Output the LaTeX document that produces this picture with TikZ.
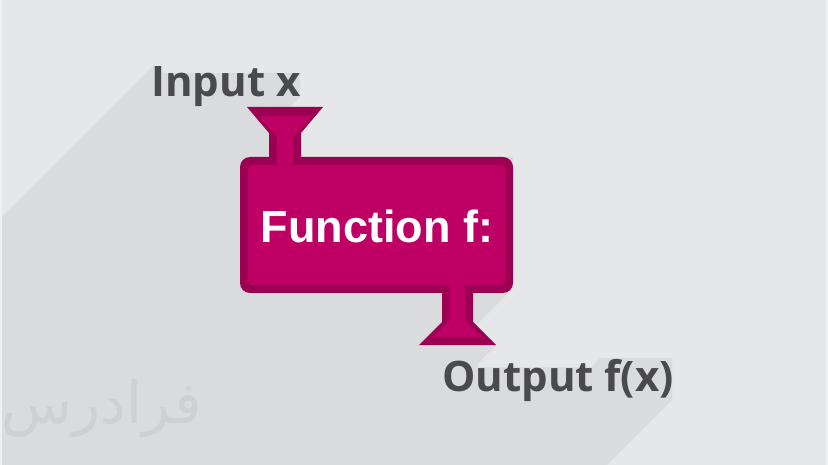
\documentclass[tikz,border=0pt]{standalone}
\usepackage{fontspec}
\setmainfont{Liberation Sans}
\newfontfamily\lblfont{Open Sans}
\newfontfamily\arabicfont[Script=Arabic]{DejaVu Sans}
\TeXXeTstate=1
\definecolor{bgc}{RGB}{230,231,232}
\definecolor{shc}{RGB}{218,219,221}
\definecolor{mgc}{RGB}{190,0,100}
\definecolor{bdc}{RGB}{156,0,82}
\definecolor{txc}{RGB}{74,74,76}
\definecolor{wmc}{RGB}{207,208,210}
\definecolor{stripc}{RGB}{240,240,241}
% long-shadow sweep of one edge toward the lower left
\newcommand\shedge[4]{\fill[shc] (#1,#2) -- (#3,#4) -- ({#3-1000},{#4+1000}) -- ({#1-1000},{#2+1000}) -- cycle;}
% long-shadow of a box [x1,x2]x[y1,y2] (top and right edges)
\newcommand\shbox[4]{\fill[shc] (#1,#3) rectangle (#2,#4);\shedge{#1}{#3}{#2}{#3}\shedge{#2}{#3}{#2}{#4}}
\begin{document}
\begin{tikzpicture}[x=1pt,y=-1pt,
  lbl/.style={inner sep=0pt, anchor=base, text=txc, font=\lblfont\bfseries\fontsize{42}{48}\selectfont}]
\useasboundingbox (0,0) rectangle (828,465);
\fill[bgc] (0,0) rectangle (828,465);
\begin{scope}
\clip (0,0) rectangle (828,465);
% long shadow of the labels
\shbox{153}{162}{66}{97}
\shbox{162}{300}{73}{97}
\shbox{444}{478}{360}{391}
\shbox{478}{600}{367}{391}
\shbox{600}{672}{358}{400}
% long shadow of the function shape
\shedge{247}{107}{323}{107}
\shedge{323}{107}{301}{133}
\shedge{301}{133}{301}{160}
\shedge{240}{157}{513}{157}
\shedge{513}{157}{513}{288}
\shedge{513}{288}{510}{291}
\shedge{473}{290}{473}{322}
\shedge{473}{322}{496}{345}
\shedge{496}{345}{419}{345}
\end{scope}
% function box
\fill[bdc, rounded corners=10] (240,157) rectangle (513,293);
\fill[bdc] (247,107) -- (323,107) -- (301,133) -- (301,160) -- (269,160) -- (269,133) -- cycle;
\fill[bdc] (442,290) -- (473,290) -- (473,322) -- (496,345) -- (419,345) -- (442,322) -- cycle;
\fill[mgc, rounded corners=4] (248,165) rectangle (505,285);
\fill[mgc] (259,116) -- (311,116) -- (293,137) -- (293,170) -- (277,170) -- (277,137) -- cycle;
\fill[mgc] (450,280) -- (465,280) -- (465,320) -- (482,337) -- (433,337) -- (450,320) -- cycle;
% texts
\node[lbl] (inlbl) at (226,97) {Input x};
\node[lbl] (outlbl) at (558,391) {Output f(x)};
\node[anchor=base, inner sep=0pt, text=white, font=\bfseries\fontsize{45}{50}\selectfont] (fnlbl) at (377,243) {Function f:};
\node[anchor=center, inner sep=0pt, text=wmc, font=\arabicfont\fontsize{58}{62}\selectfont] (wm) at (102,409) {\beginR فرادرس\endR};
% edge strips
\fill[stripc] (0,0) rectangle (2,465);
\fill[stripc] (826,0) rectangle (828,465);
\end{tikzpicture}
\end{document}
